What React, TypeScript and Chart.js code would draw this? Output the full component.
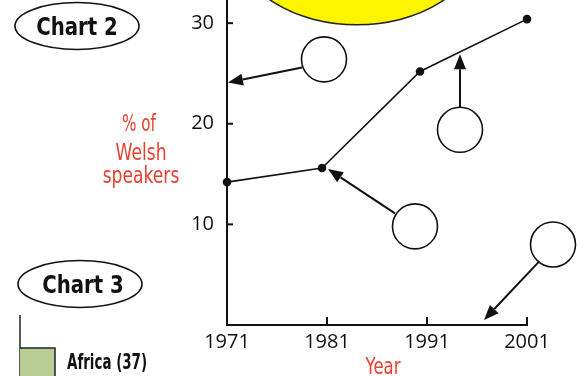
import React, { useEffect, useRef } from "react";
import { Chart, registerables } from "chart.js";

Chart.register(...registerables);

// ---- data ----
const pointYears = [1971, 1980.5, 1990.3, 2001];
const welshSpeakersPct = [14.2, 15.6, 25.2, 30.4];
const xTickYears = [1971, 1981, 1991, 2001];
const yTickValues = [10, 20, 30];
const yMax = 32.3;

// annotation bubbles (empty answer circles) in data units [year, value]
const bubbleCentres: [number, number][] = [
  [1980.7, 26.4],
  [1994.3, 19.4],
  [1989.8, 9.8],
  [2003.6, 8.0],
];
// arrows [fromYear, fromValue, toYear, toValue]
const arrows: [number, number, number, number][] = [
  [1978.5, 25.6, 1971.1, 24.1],
  [1994.3, 21.6, 1994.3, 26.9],
  [1987.8, 11.1, 1981.1, 15.5],
  [2002.2, 6.3, 1996.7, 0.5],
];
const sunCentre: [number, number] = [1984, 37.3];

const SANS = "'DejaVu Sans', sans-serif";
const RED = "#e8402e";

function fitText(
  ctx: CanvasRenderingContext2D,
  text: string,
  cx: number,
  baseline: number,
  sx: number,
  align: "center" | "left" = "center"
) {
  const w = ctx.measureText(text).width * sx;
  ctx.save();
  const x0 = align === "center" ? cx - w / 2 : cx;
  ctx.translate(x0, baseline);
  ctx.scale(sx, 1);
  ctx.textAlign = "left";
  ctx.textBaseline = "alphabetic";
  ctx.fillText(text, 0, 0);
  ctx.restore();
}

function drawArrow(ctx: CanvasRenderingContext2D, x1: number, y1: number, x2: number, y2: number) {
  const head = 15;
  const hw = 6;
  const ang = Math.atan2(y2 - y1, x2 - x1);
  const bx = x2 - head * Math.cos(ang);
  const by = y2 - head * Math.sin(ang);
  ctx.beginPath();
  ctx.moveTo(x1, y1);
  ctx.lineTo(bx, by);
  ctx.lineWidth = 2;
  ctx.strokeStyle = "#111";
  ctx.stroke();
  ctx.beginPath();
  ctx.moveTo(x2, y2);
  ctx.lineTo(bx + hw * Math.sin(ang), by - hw * Math.cos(ang));
  ctx.lineTo(bx - hw * Math.sin(ang), by + hw * Math.cos(ang));
  ctx.closePath();
  ctx.fillStyle = "#111";
  ctx.fill();
}

const decorPlugin = {
  id: "decor",
  afterDraw(chart: any) {
    const ctx: CanvasRenderingContext2D = chart.ctx;
    const xs = chart.scales.x;
    const ys = chart.scales.y;
    const area = chart.chartArea;
    ctx.save();

    // inward tick marks
    ctx.strokeStyle = "#111";
    ctx.lineWidth = 2;
    xTickYears.forEach((v) => {
      if (v === xTickYears[0]) return;
      const px = xs.getPixelForValue(v);
      ctx.beginPath();
      ctx.moveTo(px, area.bottom);
      ctx.lineTo(px, area.bottom - 8);
      ctx.stroke();
    });
    yTickValues.forEach((v) => {
      const py = ys.getPixelForValue(v);
      ctx.beginPath();
      ctx.moveTo(area.left, py);
      ctx.lineTo(area.left + 6, py);
      ctx.stroke();
    });

    // yellow sun
    ctx.beginPath();
    ctx.ellipse(xs.getPixelForValue(sunCentre[0]), ys.getPixelForValue(sunCentre[1]), 117, 75, 0, 0, Math.PI * 2);
    ctx.fillStyle = "#fdf500";
    ctx.fill();
    ctx.lineWidth = 1.5;
    ctx.strokeStyle = "#222";
    ctx.stroke();

    // bubbles
    bubbleCentres.forEach(([bx, by]) => {
      ctx.beginPath();
      ctx.arc(xs.getPixelForValue(bx), ys.getPixelForValue(by), 22.5, 0, Math.PI * 2);
      ctx.fillStyle = "#fff";
      ctx.fill();
      ctx.lineWidth = 1.6;
      ctx.strokeStyle = "#111";
      ctx.stroke();
    });

    // arrows
    arrows.forEach(([a, b, c, d]) => {
      drawArrow(ctx, xs.getPixelForValue(a), ys.getPixelForValue(b), xs.getPixelForValue(c), ys.getPixelForValue(d));
    });

    // axis titles in red
    ctx.fillStyle = RED;
    ctx.font = `23px ${SANS}`;
    fitText(ctx, "% of", 139, 131, 0.66);
    fitText(ctx, "Welsh", 141, 160, 0.745);
    fitText(ctx, "speakers", 141, 183, 0.745);
    fitText(ctx, "Year", 383, 374, 0.72);

    // "Chart 2" / "Chart 3" ovals
    const oval = (cx: number, cy: number, tx: number, text: string) => {
      ctx.beginPath();
      ctx.ellipse(cx, cy, 62, 23.5, 0, 0, Math.PI * 2);
      ctx.lineWidth = 1.6;
      ctx.strokeStyle = "#111";
      ctx.stroke();
      ctx.fillStyle = "#111";
      ctx.font = `bold 25px ${SANS}`;
      fitText(ctx, text, tx, cy + 9, 0.79);
    };
    oval(77, 26, 77, "Chart 2");
    oval(80, 284, 83, "Chart 3");

    // Chart 3 fragment: axis line + green swatch + label
    ctx.beginPath();
    ctx.moveTo(20, 315);
    ctx.lineTo(20, 376);
    ctx.lineWidth = 1.5;
    ctx.strokeStyle = "#222";
    ctx.stroke();
    ctx.fillStyle = "#b9cc93";
    ctx.fillRect(20, 348, 35, 30);
    ctx.beginPath();
    ctx.moveTo(20, 348);
    ctx.lineTo(55, 348);
    ctx.lineTo(55, 376);
    ctx.lineWidth = 1.5;
    ctx.stroke();
    ctx.fillStyle = "#111";
    ctx.font = `bold 22px ${SANS}`;
    fitText(ctx, "Africa (37)", 67, 369, 0.61, "left");

    ctx.restore();
  },
};

export default function App() {
  const ref = useRef<HTMLCanvasElement | null>(null);
  useEffect(() => {
    if (!ref.current) return;
    const chart = new Chart(ref.current, {
      type: "line",
      data: {
        datasets: [
          {
            data: pointYears.map((y, i) => ({ x: y, y: welshSpeakersPct[i] })),
            borderColor: "#111",
            borderWidth: 1.6,
            pointRadius: 3.5,
            pointBackgroundColor: "#111",
            pointBorderColor: "#111",
            tension: 0,
            clip: false as any,
          },
        ],
      },
      options: {
        animation: false,
        responsive: false,
        devicePixelRatio: 1,
        layout: { autoPadding: false, padding: { left: 0, right: 58, top: 0, bottom: 0 } },
        plugins: { legend: { display: false }, tooltip: { enabled: false } },
        scales: {
          x: {
            type: "linear",
            min: 1971,
            max: 2001,
            afterBuildTicks: (s: any) => {
              s.ticks = xTickYears.map((v) => ({ value: v }));
            },
            afterFit: (s: any) => {
              s.height = 51;
            },
            grid: { display: false, drawTicks: false },
            border: { display: true, color: "#111", width: 2 },
            ticks: {
              autoSkip: false,
              maxRotation: 0,
              padding: 5,
              color: "#111",
              font: { family: "'Open Sans', sans-serif", size: 20, weight: "500" as any },
              callback: (v: any) => String(v),
            },
          },
          y: {
            min: 0,
            max: yMax,
            afterBuildTicks: (s: any) => {
              s.ticks = yTickValues.map((v) => ({ value: v }));
            },
            afterFit: (s: any) => {
              s.width = 227;
              s.paddingTop = 0;
              s.paddingBottom = 0;
            },
            grid: { display: false, drawTicks: true, tickLength: 13 },
            border: { display: true, color: "#111", width: 2 },
            ticks: {
              padding: 0,
              color: "#111",
              font: { family: "'Open Sans', sans-serif", size: 20, weight: "500" as any, lineHeight: 0.01 },
              callback: (v: any) => String(v),
            },
          },
        },
      },
      plugins: [decorPlugin],
    });
    return () => chart.destroy();
  }, []);
  return (
    <div style={{ position: "fixed", left: 0, top: 0, width: 585, height: 376, background: "#fff" }}>
      <canvas ref={ref} width={585} height={376} />
    </div>
  );
}
